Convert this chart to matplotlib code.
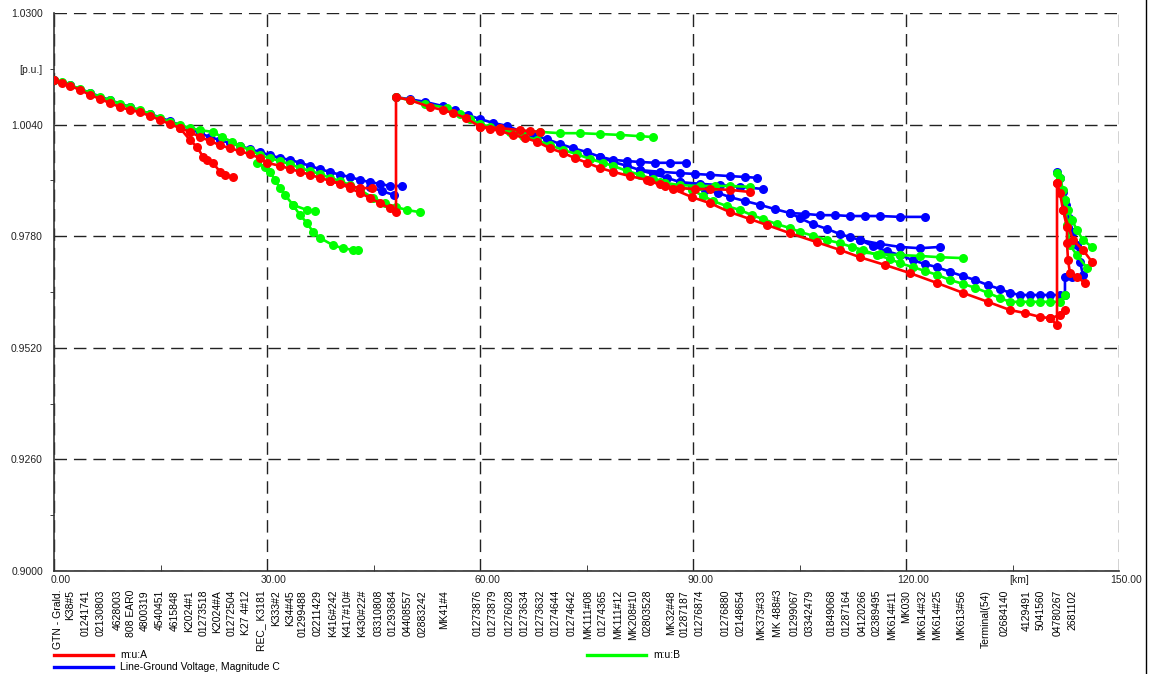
import matplotlib
matplotlib.use('Agg')
import matplotlib.pyplot as plt
from matplotlib.lines import Line2D
from matplotlib.transforms import ScaledTranslation, blended_transform_factory

plt.rcParams['font.family'] = ['Liberation Sans', 'DejaVu Sans']

# ---- phase A (m:u:A, red) ----
a_main_km = [0.00, 1.13, 2.25, 3.66, 5.07, 6.48, 7.89, 9.30, 10.70, 12.11, 13.52, 14.93, 16.34, 17.75,
             19.15, 20.56, 21.97, 23.38, 24.79, 26.20, 27.61, 29.01, 30.00, 31.83, 33.24, 34.65, 36.06,
             37.46, 38.87, 40.28, 41.69, 43.10, 44.51, 45.92, 47.32, 48.17,
             48.17, 50.14, 52.96, 54.79, 56.20, 58.03, 60.00, 61.41, 62.82, 64.65, 66.34, 68.03, 69.86,
             71.69, 73.38, 75.07, 76.90, 78.73, 81.13, 83.52, 85.35, 87.18, 89.86, 92.39, 95.21, 98.03,
             100.42, 103.66, 107.46, 110.70, 113.52, 117.04, 120.56, 124.37, 128.03, 131.55, 134.65,
             136.76, 138.87, 140.28, 141.27, 141.27]
a_main_v = [1.0144, 1.0137, 1.0130, 1.0121, 1.0109, 1.0100, 1.0090, 1.0081, 1.0074, 1.0069, 1.0060, 1.0051,
            1.0041, 1.0032, 1.0023, 1.0011, 1.0002, 0.9992, 0.9985, 0.9978, 0.9971, 0.9962, 0.9951, 0.9944,
            0.9937, 0.9930, 0.9923, 0.9916, 0.9909, 0.9902, 0.9892, 0.9881, 0.9869, 0.9857, 0.9845, 0.9836,
            1.0104, 1.0097, 1.0081, 1.0074, 1.0067, 1.0055, 1.0035, 1.0030, 1.0025, 1.0016, 1.0009, 1.0000,
            0.9985, 0.9974, 0.9962, 0.9951, 0.9939, 0.9930, 0.9920, 0.9911, 0.9901, 0.9890, 0.9871, 0.9857,
            0.9836, 0.9820, 0.9806, 0.9787, 0.9766, 0.9748, 0.9731, 0.9713, 0.9694, 0.9671, 0.9648, 0.9627,
            0.9608, 0.9601, 0.9592, 0.9589, 0.9573, 0.9904]
a_end_km = [141.27, 141.69, 142.11, 142.68, 142.68, 142.82, 143.10, 144.08, 145.21]
a_end_v = [0.9904, 0.9881, 0.9841, 0.9801, 0.9764, 0.9724, 0.9694, 0.9685, 0.9671]
a_br1_km = [17.75, 19.15, 20.14, 20.99, 21.55, 22.39, 23.38, 24.08, 25.21]
a_br1_v = [1.0032, 1.0004, 0.9988, 0.9965, 0.9958, 0.9951, 0.9930, 0.9923, 0.9918]
a_br2_km = [38.87, 41.69, 43.10, 44.79]
a_br2_v = [0.9909, 0.9897, 0.9892, 0.9892]
a_br3_km = [60.00, 62.82, 65.63, 67.04, 68.45]
a_br3_v = [1.0035, 1.0032, 1.0027, 1.0025, 1.0023]
a_br4_km = [83.94, 86.06, 88.17, 90.28, 92.39, 95.21, 98.03]
a_br4_v = [0.9908, 0.9897, 0.9892, 0.9890, 0.9890, 0.9888, 0.9883]
a_br5_km = [142.11, 143.52, 144.93, 146.20]
a_br5_v = [0.9841, 0.9771, 0.9748, 0.9720]
a_br6_km = [140.28, 141.69, 142.39]
a_br6_v = [0.9589, 0.9596, 0.9608]

# ---- phase B (m:u:B, green) ----
b_tr1_km = [0.00, 1.13, 2.25, 3.66, 5.07, 6.48, 7.89, 9.30, 10.70, 12.11, 13.52, 14.93, 16.34, 17.75,
            19.15, 20.56, 22.39, 23.66, 25.07, 26.20, 27.61, 29.01, 30.42, 31.83, 33.24, 34.65, 36.06,
            37.46, 38.87, 40.28, 41.69, 43.10, 44.93, 46.62, 48.17, 49.72, 51.55]
b_tr1_v = [1.0144, 1.0139, 1.0132, 1.0123, 1.0114, 1.0104, 1.0097, 1.0088, 1.0081, 1.0074, 1.0065, 1.0055,
           1.0046, 1.0039, 1.0032, 1.0027, 1.0023, 1.0011, 1.0000, 0.9990, 0.9981, 0.9969, 0.9962, 0.9955,
           0.9948, 0.9939, 0.9932, 0.9925, 0.9916, 0.9909, 0.9899, 0.9888, 0.9869, 0.9857, 0.9848, 0.9841,
           0.9836]
b_br1_km = [28.59, 29.72, 30.42, 31.13, 31.83, 32.54, 33.66, 34.65, 35.63, 36.48, 37.46, 39.30, 40.70,
            42.11, 42.82]
b_br1_v = [0.9951, 0.9941, 0.9930, 0.9911, 0.9892, 0.9876, 0.9853, 0.9829, 0.9811, 0.9790, 0.9776, 0.9759,
           0.9752, 0.9748, 0.9748]
b_br2_km = [33.66, 35.63, 36.76]
b_br2_v = [0.9853, 0.9841, 0.9839]
b_tr2_km = [48.17, 50.14, 52.25, 55.35, 57.18, 58.59, 60.00, 61.41, 62.82, 64.23, 66.06, 68.03, 69.86,
            71.69, 73.66, 75.49, 77.32, 78.73, 80.70, 82.54, 84.37, 86.06, 88.17, 89.86, 91.41, 92.82,
            94.79, 96.62, 98.31, 99.86, 101.83, 103.66, 105.07, 106.90, 108.87, 110.70, 112.39, 113.94,
            115.92, 117.75, 119.15, 120.99, 122.68, 124.37, 126.20, 128.03, 129.72, 131.55, 133.24,
            134.65, 136.06, 137.46, 138.87, 140.28, 141.69, 142.39]
b_tr2_v = [1.0104, 1.0097, 1.0088, 1.0079, 1.0065, 1.0053, 1.0041, 1.0035, 1.0030, 1.0023, 1.0014, 1.0004,
           0.9992, 0.9981, 0.9971, 0.9960, 0.9951, 0.9944, 0.9932, 0.9923, 0.9913, 0.9904, 0.9895, 0.9888,
           0.9874, 0.9862, 0.9850, 0.9841, 0.9829, 0.9820, 0.9808, 0.9799, 0.9790, 0.9781, 0.9771, 0.9764,
           0.9755, 0.9748, 0.9736, 0.9727, 0.9717, 0.9708, 0.9699, 0.9690, 0.9678, 0.9669, 0.9660, 0.9648,
           0.9636, 0.9627, 0.9627, 0.9627, 0.9627, 0.9627, 0.9627, 0.9643]
b_br3_km = [62.82, 65.63, 68.45, 71.27, 74.08, 76.90, 79.72, 82.54, 84.37]
b_br3_v = [1.0030, 1.0025, 1.0023, 1.0020, 1.0020, 1.0018, 1.0016, 1.0013, 1.0011]
b_br4_km = [85.35, 88.17, 91.00, 93.10, 95.21, 98.03]
b_br4_v = [0.9906, 0.9899, 0.9897, 0.9897, 0.9897, 0.9895]
b_br5_km = [113.52, 116.34, 119.15, 121.97, 124.79, 128.03]
b_br5_v = [0.9743, 0.9738, 0.9736, 0.9734, 0.9731, 0.9729]
b_end_km = [141.27, 141.69, 142.11, 142.39, 142.82, 143.38, 144.08, 144.93, 146.20]
b_end_v = [0.9927, 0.9916, 0.9888, 0.9864, 0.9841, 0.9818, 0.9794, 0.9771, 0.9755]
b_end2_km = [142.39, 142.68, 143.10, 144.08, 145.49]
b_end2_v = [0.9864, 0.9806, 0.9759, 0.9736, 0.9706]

# ---- phase C (Line-Ground Voltage, Magnitude C, blue) ----
c_tr1_km = [0.00, 2.25, 5.07, 7.89, 10.70, 13.52, 16.34, 19.15, 20.56, 21.97, 23.38, 24.79, 26.20, 27.61,
            29.01, 30.42, 31.83, 33.24, 34.65, 36.06, 37.46, 38.87, 40.28, 41.69, 43.10, 44.51, 45.92,
            47.32, 49.01]
c_tr1_v = [1.0144, 1.0132, 1.0114, 1.0097, 1.0081, 1.0065, 1.0048, 1.0030, 1.0020, 1.0011, 1.0004, 0.9997,
           0.9990, 0.9983, 0.9976, 0.9969, 0.9962, 0.9958, 0.9951, 0.9944, 0.9936, 0.9930, 0.9923, 0.9918,
           0.9911, 0.9906, 0.9902, 0.9897, 0.9897]
c_br1_km = [44.51, 46.20, 47.89]
c_br1_v = [0.9895, 0.9885, 0.9876]
c_tr2_km = [48.17, 50.14, 52.25, 54.79, 56.48, 58.31, 60.00, 61.83, 63.80, 65.63, 67.46, 69.44, 71.27,
            73.10, 75.07, 76.90, 78.73, 80.70, 82.54, 84.37, 86.34, 88.17, 89.86, 91.69, 93.52, 95.21,
            97.32, 99.44, 101.55, 103.66, 105.07, 106.90, 108.87, 110.70, 112.11, 113.52, 115.35, 117.32,
            119.15, 120.99, 122.68, 124.37, 126.20, 128.03, 129.72, 131.55, 133.24, 134.65, 136.06,
            137.46, 138.87, 140.28, 141.69, 142.39, 142.39, 143.38]
c_tr2_v = [1.0104, 1.0099, 1.0093, 1.0083, 1.0074, 1.0062, 1.0053, 1.0044, 1.0037, 1.0025, 1.0016, 1.0006,
           0.9995, 0.9985, 0.9976, 0.9965, 0.9953, 0.9944, 0.9934, 0.9925, 0.9916, 0.9906, 0.9897, 0.9888,
           0.9881, 0.9871, 0.9862, 0.9853, 0.9843, 0.9834, 0.9822, 0.9808, 0.9797, 0.9785, 0.9778, 0.9771,
           0.9757, 0.9745, 0.9736, 0.9724, 0.9715, 0.9708, 0.9697, 0.9687, 0.9678, 0.9666, 0.9657, 0.9648,
           0.9643, 0.9643, 0.9643, 0.9643, 0.9643, 0.9643, 0.9685, 0.9685]
c_br2_km = [76.90, 78.73, 80.70, 82.54, 84.65, 86.76, 89.01]
c_br2_v = [0.9965, 0.9958, 0.9955, 0.9953, 0.9951, 0.9951, 0.9951]
c_br3_km = [82.54, 85.35, 88.17, 90.28, 92.39, 95.21, 97.32, 99.01]
c_br3_v = [0.9934, 0.9930, 0.9927, 0.9925, 0.9923, 0.9920, 0.9918, 0.9916]
c_br4_km = [88.17, 91.00, 93.80, 96.62, 99.86]
c_br4_v = [0.9906, 0.9902, 0.9899, 0.9895, 0.9890]
c_br5_km = [103.66, 105.77, 107.89, 110.00, 112.11, 114.23, 116.34, 119.15, 122.68]
c_br5_v = [0.9834, 0.9832, 0.9829, 0.9829, 0.9827, 0.9827, 0.9827, 0.9825, 0.9825]
c_br6_km = [113.52, 116.34, 119.15, 121.97, 124.79]
c_br6_v = [0.9771, 0.9762, 0.9755, 0.9752, 0.9755]
c_end_km = [141.27, 141.69, 142.11, 142.54, 142.96, 143.52, 144.08, 144.51, 144.93]
c_end_v = [0.9930, 0.9916, 0.9883, 0.9853, 0.9822, 0.9790, 0.9759, 0.9720, 0.9690]

# ---- axis texts ----
x_ticks = [0, 30, 60, 90, 120, 150]
x_tick_labels = ['0.00', '30.00', '60.00', '90.00', '120.00', '150.00']
y_ticks = [0.9, 0.926, 0.952, 0.978, 1.004, 1.03]
y_tick_labels = ['0.9000', '0.9260', '0.9520', '0.9780', '1.0040', '1.0300']

node_km = [0.56, 2.25, 4.51, 6.62, 9.01, 10.85, 12.82, 14.93, 17.04, 19.01, 21.13, 22.96, 25.07, 27.04,
           29.15, 31.27, 33.24, 35.07, 37.18, 39.30, 41.27, 43.38, 45.77, 47.75, 49.86, 51.97, 54.93,
           59.72, 61.83, 64.23, 66.34, 68.59, 70.70, 72.96, 75.21, 77.32, 79.44, 81.55, 83.66, 86.90,
           88.87, 90.99, 94.65, 96.76, 99.58, 101.97, 104.37, 106.48, 109.58, 111.69, 113.94, 115.92,
           118.03, 120.00, 122.25, 124.37, 127.75, 131.27, 133.90, 137.00, 138.90, 141.41, 143.38]
node_names = ['GTN - Grald.', 'K38#5', '01241741', '02130803', '4628003', '808 EAR0', '4800319',
              '4540451', '4615848', 'K2024#1', '01273518', 'K2024#A', '01272504', 'K27 4#12',
              'REC_ K3181', 'K333#2', 'K34#45', '01299488', '02211429', 'K416#242', 'K417#10#',
              'K430#22#', '03310808', '01293684', '04408557', '02883242', 'MK41#4',
              '01273876', '01273879', '01276028', '01273634', '01273632', '01274644', '01274642',
              'MK111#08', '01274365', 'MK111#12', 'MK208#10', '02803528', 'MK32#48', '01287187',
              '01276874', '01276880', '02148654', 'MK373#33', 'MK 488#3', '01299067', '03342479',
              '01849068', '01287164', '04120266', '02389495', 'MK614#11', 'MK030', 'MK614#32',
              'MK614#25', 'MK613#56', 'Terminal(54)', '02684140', '4129491', '5041560', '04780267',
              '2681102']

W, H = 1149, 674
fig = plt.figure(figsize=(W / 100, H / 100), dpi=100)
ax = fig.add_axes([54 / W, 1 - 571 / H, 1065 / W, 558 / H])

phases = [
    ('#0000ff', 2, [(c_tr1_km, c_tr1_v), (c_br1_km, c_br1_v), (c_tr2_km, c_tr2_v), (c_br2_km, c_br2_v),
                    (c_br3_km, c_br3_v), (c_br4_km, c_br4_v), (c_br5_km, c_br5_v), (c_br6_km, c_br6_v),
                    (c_end_km, c_end_v)]),
    ('#00ff00', 3, [(b_tr1_km, b_tr1_v), (b_br1_km, b_br1_v), (b_br2_km, b_br2_v), (b_tr2_km, b_tr2_v),
                    (b_br3_km, b_br3_v), (b_br4_km, b_br4_v), (b_br5_km, b_br5_v), (b_end_km, b_end_v),
                    (b_end2_km, b_end2_v)]),
    ('#ff0000', 4, [(a_main_km, a_main_v), (a_end_km, a_end_v), (a_br1_km, a_br1_v), (a_br2_km, a_br2_v),
                    (a_br3_km, a_br3_v), (a_br4_km, a_br4_v), (a_br5_km, a_br5_v), (a_br6_km, a_br6_v)]),
]
for color, z, branches in phases:
    for km, v in branches:
        ax.plot(km, v, color=color, lw=1.9, marker='o', ms=6.5, mew=0, zorder=z)

ax.set_xlim(0, 150)
ax.set_ylim(0.9, 1.03)
ax.set_xticks(x_ticks)
ax.set_xticklabels(x_tick_labels)
ax.set_xticks([15, 45, 75, 105, 135], minor=True)
ax.set_xticklabels(['', '', '', '', '[km]'], minor=True)
ax.set_yticks(y_ticks)
ax.set_yticklabels(y_tick_labels)
ax.set_yticks([0.913, 0.939, 0.965, 0.991, 1.017], minor=True)
ax.set_yticklabels(['', '', '', '', '[p.u.]'], minor=True)

ax.tick_params(axis='both', which='both', labelsize=7.5, colors='#222222')
ax.tick_params(axis='x', which='major', length=0, pad=3)
ax.tick_params(axis='x', which='minor', length=4, direction='in', pad=3)
ax.tick_params(axis='y', which='major', length=0, pad=8)
ax.tick_params(axis='y', which='minor', length=3, direction='out', pad=5)
for lab in ax.get_xticklabels() + ax.get_xticklabels(minor=True):
    lab.set_transform(lab.get_transform() + ScaledTranslation(0.07, 0, fig.dpi_scale_trans))

ax.grid(True, which='major', color='#222222', lw=1.0, ls=(0, (9, 5)))
ax.set_axisbelow(True)
for side in ['top', 'right']:
    ax.spines[side].set_visible(False)
for side in ['left', 'bottom']:
    ax.spines[side].set_color('#333333')
    ax.spines[side].set_linewidth(1.2)

# node names under the x axis
trans = blended_transform_factory(ax.transData, ax.transAxes)
for km, name in zip(node_km, node_names):
    ax.text(km, -0.034, name, transform=trans, rotation=90, ha='center', va='top', fontsize=7.5)

# legend drawn below the node names
def legend_item(x0, y, color, label):
    fig.add_artist(Line2D([x0 / W, (x0 + 59) / W], [1 - y / H] * 2, transform=fig.transFigure,
                          color=color, lw=2.4))
    fig.text((x0 + 66) / W, 1 - y / H, label, fontsize=7.5, va='center', ha='left')

legend_item(54, 655, '#ff0000', 'm:u:A')
legend_item(54, 667, '#0000ff', 'Line-Ground Voltage, Magnitude C')
legend_item(587, 655, '#00ff00', 'm:u:B')

fig.add_artist(Line2D([1146 / W] * 2, [0, 1], transform=fig.transFigure, color='black', lw=1))

fig.savefig('out.png', dpi=100)
